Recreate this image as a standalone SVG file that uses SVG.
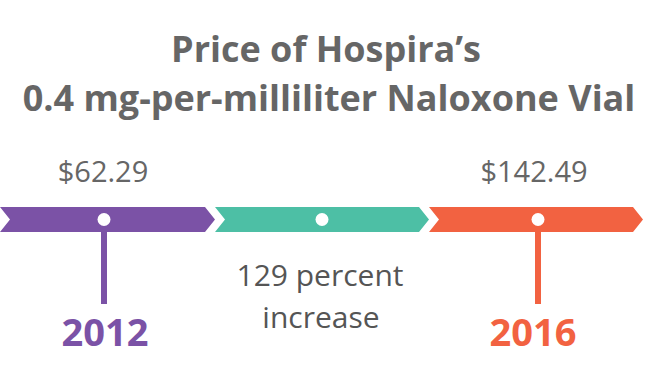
<svg xmlns="http://www.w3.org/2000/svg" width="647" height="371" viewBox="0 0 647 371">
<style>
.title{font-family:"Open Sans","Liberation Sans",sans-serif;font-weight:bold;font-size:36px;fill:#666;text-anchor:middle}
.price{font-family:"Open Sans","Liberation Sans",sans-serif;font-size:29px;fill:#666;text-anchor:middle}
.note{font-family:"Open Sans","Liberation Sans",sans-serif;font-size:30px;fill:#555;text-anchor:middle}
.year{font-family:"Open Sans","Liberation Sans",sans-serif;font-weight:bold;font-size:38px;text-anchor:middle}
.dot{fill:#fff}
</style>
<rect width="647" height="371" fill="#fff"/>
<g id="title">
<text class="title" x="326" y="62">Price of Hospira’s</text>
<text class="title" x="329" y="111">0.4 mg-per-milliliter Naloxone Vial</text>
</g>
<g id="connectors">
<rect x="101" y="222" width="6" height="82" fill="#7B52A6"/>
<rect x="535" y="222" width="6" height="82" fill="#F26241"/>
</g>
<g id="seg2012">
<polygon points="0,207 205,207 215,219.5 205,232 0,232 10,219.5" fill="#7B52A6"/>
<circle class="dot" cx="104" cy="219.5" r="6.5"/>
<text class="price" x="103" y="182">$62.29</text>
<text class="year" x="105" y="346" fill="#7B52A6">2012</text>
</g>
<g id="segMid">
<polygon points="215,207 419,207 429,219.5 419,232 215,232 225,219.5" fill="#4DBFA5"/>
<circle class="dot" cx="322" cy="219.5" r="6.5"/>
<text class="note" x="320" y="286">129 percent</text>
<text class="note" x="321" y="328">increase</text>
</g>
<g id="seg2016">
<polygon points="429,207 633,207 643,219.5 633,232 429,232 439,219.5" fill="#F26241"/>
<circle class="dot" cx="538" cy="219.5" r="6.5"/>
<text class="price" x="534" y="182">$142.49</text>
<text class="year" x="533" y="346" fill="#F26241">2016</text>
</g>
</svg>
